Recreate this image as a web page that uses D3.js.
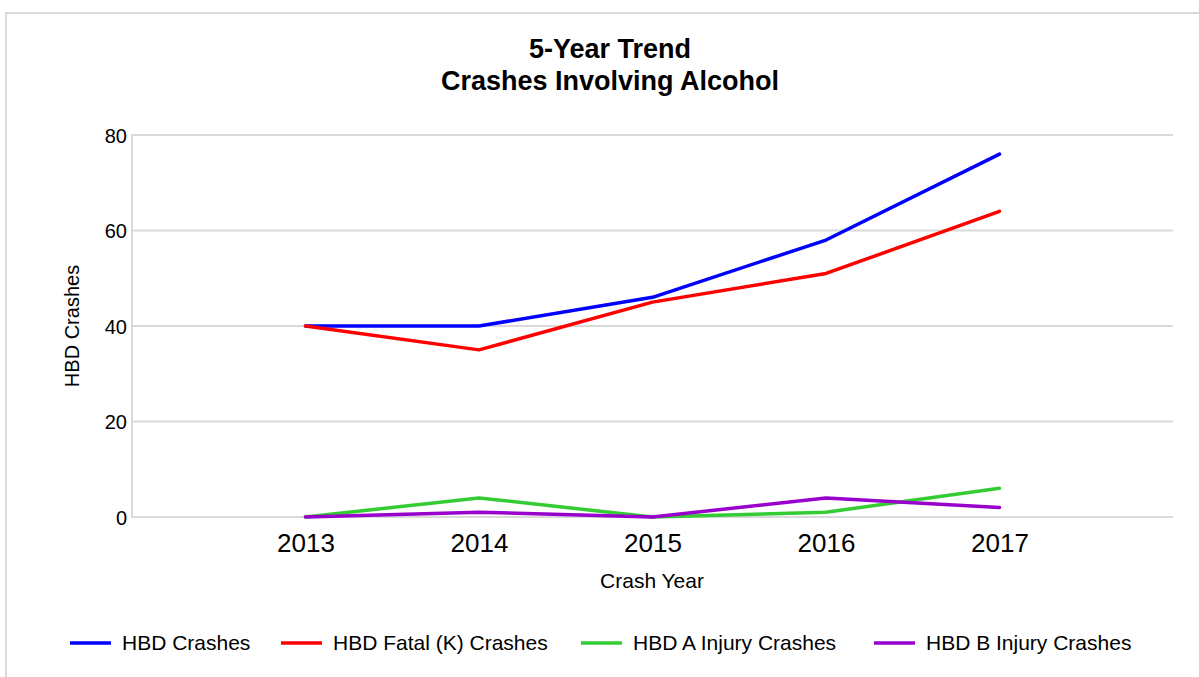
<!DOCTYPE html>
<html>
<head>
<meta charset="utf-8">
<script src="https://cdnjs.cloudflare.com/ajax/libs/d3/7.8.5/d3.min.js"></script>
<style>
  html, body { margin: 0; padding: 0; background: #fff; }
  text { font-family: "Liberation Sans", Arial, sans-serif; fill: #000; }
</style>
</head>
<body>
<div id="chart"></div>
<script>
// ----- dati
var years = ["2013", "2014", "2015", "2016", "2017"];
var hbdCrashes = [40, 40, 46, 58, 76];
var hbdFatal = [40, 35, 45, 51, 64];
var hbdAInjury = [0, 4, 0, 1, 6];
var hbdBInjury = [0, 1, 0, 4, 2];
var yTicks = [0, 20, 40, 60, 80];
var seriesNames = ["HBD Crashes", "HBD Fatal (K) Crashes", "HBD A Injury Crashes", "HBD B Injury Crashes"];
var seriesColors = ["#0000ff", "#ff0000", "#33cc33", "#9900cc"];

var series = [hbdCrashes, hbdFatal, hbdAInjury, hbdBInjury].map(function (vals, i) {
    return { name: seriesNames[i], color: seriesColors[i], values: vals };
});

// ----- dimensioni
var w = 1199;
var h = 677;
var plot = { left: 132, right: 1173, top: 135, bottom: 517 };
var font = '"Liberation Sans", Arial, sans-serif';

var svg = d3.select('#chart').append('svg')
    .attr('width', w)
    .attr('height', h);

// bordo esterno
svg.append('rect')
    .attr('x', 6).attr('y', 13)
    .attr('width', w + 10).attr('height', h + 10)
    .attr('fill', 'none')
    .attr('stroke', '#d9d9d9')
    .attr('stroke-width', 2);

// ----- scale
var x = d3.scalePoint().domain(years).range([plot.left, plot.right]).padding(1);
var y = d3.scaleLinear().domain([0, 80]).range([plot.bottom, plot.top]);

// griglia
svg.append('g').selectAll('line.grid').data(yTicks)
    .enter().append('line')
    .attr('class', 'grid')
    .attr('x1', plot.left).attr('x2', plot.right)
    .attr('y1', function (d) { return y(d); })
    .attr('y2', function (d) { return y(d); })
    .attr('stroke', '#d9d9d9')
    .attr('stroke-width', 2);

// asse y (linea verticale)
svg.append('line')
    .attr('x1', plot.left).attr('x2', plot.left)
    .attr('y1', plot.top - 1).attr('y2', plot.bottom + 1)
    .attr('stroke', '#d9d9d9')
    .attr('stroke-width', 2);

// etichette asse y
var yAxis = svg.append('g')
    .attr('transform', 'translate(' + (plot.left - 5) + ',0)')
    .call(d3.axisLeft(y).tickValues(yTicks).tickSize(0).tickPadding(0));
yAxis.select('.domain').remove();
yAxis.selectAll('text')
    .attr('font-size', 20)
    .attr('dy', '0.36em')
    .style('font-family', font);

// etichette asse x
var xAxis = svg.append('g')
    .attr('transform', 'translate(0,' + plot.bottom + ')')
    .call(d3.axisBottom(x).tickSize(0).tickPadding(0));
xAxis.select('.domain').remove();
xAxis.selectAll('text')
    .attr('font-size', 26)
    .attr('y', 35)
    .attr('dy', 0)
    .style('font-family', font);

// ----- linee
var line = d3.line()
    .x(function (d, i) { return x(years[i]); })
    .y(function (d) { return y(d); });

svg.append('g').selectAll('path.series').data(series)
    .enter().append('path')
    .attr('class', 'series')
    .attr('d', function (d) { return line(d.values); })
    .attr('fill', 'none')
    .attr('stroke', function (d) { return d.color; })
    .attr('stroke-width', 3.5)
    .attr('stroke-linejoin', 'round')
    .attr('stroke-linecap', 'round');

// ----- titoli
svg.append('text')
    .attr('x', 610).attr('y', 58)
    .attr('text-anchor', 'middle')
    .attr('font-size', 27).attr('font-weight', 'bold')
    .text('5-Year Trend');
svg.append('text')
    .attr('x', 610).attr('y', 90)
    .attr('text-anchor', 'middle')
    .attr('font-size', 27).attr('font-weight', 'bold')
    .text('Crashes Involving Alcohol');

svg.append('text')
    .attr('x', 652).attr('y', 588)
    .attr('text-anchor', 'middle')
    .attr('font-size', 21)
    .text('Crash Year');

svg.append('text')
    .attr('transform', 'translate(79,' + y(40) + ') rotate(-90)')
    .attr('text-anchor', 'middle')
    .attr('font-size', 20)
    .text('HBD Crashes');

// ----- legenda
var legendX = [70, 281, 581, 874];
var legend = svg.append('g').selectAll('g.legend').data(series)
    .enter().append('g')
    .attr('class', 'legend')
    .attr('transform', function (d, i) { return 'translate(' + legendX[i] + ',643)'; });

legend.append('line')
    .attr('x1', 0).attr('x2', 41)
    .attr('y1', 0).attr('y2', 0)
    .attr('stroke', function (d) { return d.color; })
    .attr('stroke-width', 3.5);

legend.append('text')
    .attr('x', 52).attr('y', 0)
    .attr('dy', '0.35em')
    .attr('font-size', 21)
    .text(function (d) { return d.name; });
</script>
</body>
</html>
